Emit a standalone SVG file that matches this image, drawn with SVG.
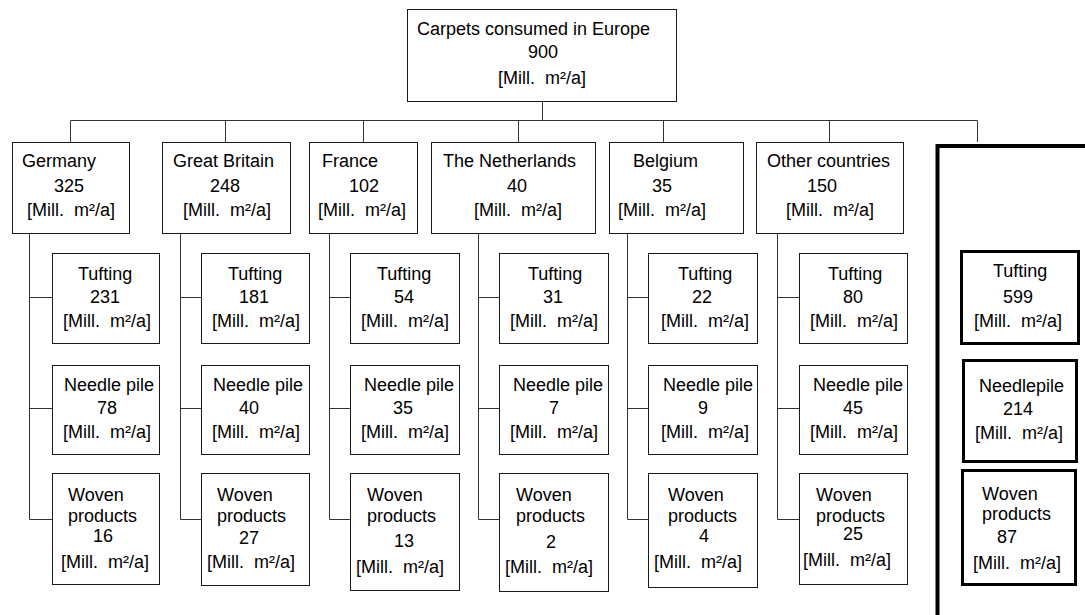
<svg xmlns="http://www.w3.org/2000/svg" width="1085" height="615" viewBox="0 0 1085 615">
  <style>
    text { font-family: "Liberation Sans", Arial, sans-serif; font-size: 18px; fill: #000; }
    .box { fill: #fff; stroke: #1a1a1a; stroke-width: 1; }
    .bold { fill: #fff; stroke: #000; stroke-width: 3; }
    .wire { fill: none; stroke: #333; stroke-width: 1; }
    .frame { fill: none; stroke: #000; stroke-width: 4; }
  </style>

  <!-- connectors -->
  <g id="connectors">
    <path class="wire" d="M542.5 101 V120.5 M70.5 120.5 H977.5 M70.5 120.5 V142 M225.5 120.5 V142 M363.5 120.5 V142 M518.5 120.5 V142 M663.5 120.5 V142 M829.5 120.5 V142 M977.5 120.5 V142"/>
    <path class="wire" d="M29.5 233 V519.5 M29.5 297.5 H52 M29.5 408.5 H52 M29.5 519.5 H52"/>
    <path class="wire" d="M180.5 233 V519.5 M180.5 297.5 H201 M180.5 408.5 H201 M180.5 519.5 H201"/>
    <path class="wire" d="M329.5 233 V519.5 M329.5 297.5 H350 M329.5 408.5 H350 M329.5 519.5 H350"/>
    <path class="wire" d="M478.5 233 V519.5 M478.5 297.5 H499 M478.5 408.5 H499 M478.5 519.5 H499"/>
    <path class="wire" d="M627.5 233 V519.5 M627.5 297.5 H648 M627.5 408.5 H648 M627.5 519.5 H648"/>
    <path class="wire" d="M777.5 233 V519.5 M777.5 297.5 H799 M777.5 408.5 H799 M777.5 519.5 H799"/>
    <path class="frame" d="M937.5 615 V146 H1085"/>
  </g>

  <!-- total -->
  <g id="europe">
    <rect class="box" x="407.5" y="9.5" width="269" height="92"/>
    <text x="417" y="35">Carpets consumed in Europe</text>
    <text x="528" y="58">900</text>
    <text x="498" y="84">[Mill.&#160; m²/a]</text>
  </g>

  <!-- countries -->
  <g id="germany">
    <rect class="box" x="12.5" y="142.5" width="117" height="91"/>
    <text x="22" y="167">Germany</text>
    <text x="54" y="192">325</text>
    <text x="27" y="216">[Mill.&#160; m²/a]</text>
  </g>
  <g id="great-britain">
    <rect class="box" x="162.5" y="142.5" width="128" height="91"/>
    <text x="173" y="167">Great Britain</text>
    <text x="210" y="192">248</text>
    <text x="183" y="216">[Mill.&#160; m²/a]</text>
  </g>
  <g id="france">
    <rect class="box" x="309.5" y="142.5" width="108" height="91"/>
    <text x="322" y="167">France</text>
    <text x="349" y="192">102</text>
    <text x="318" y="216">[Mill.&#160; m²/a]</text>
  </g>
  <g id="netherlands">
    <rect class="box" x="431.5" y="142.5" width="164" height="91"/>
    <text x="443" y="167">The Netherlands</text>
    <text x="507" y="192">40</text>
    <text x="474" y="216">[Mill.&#160; m²/a]</text>
  </g>
  <g id="belgium">
    <rect class="box" x="609.5" y="142.5" width="134" height="91"/>
    <text x="633" y="167">Belgium</text>
    <text x="652" y="192">35</text>
    <text x="618" y="216">[Mill.&#160; m²/a]</text>
  </g>
  <g id="other-countries">
    <rect class="box" x="756.5" y="142.5" width="147" height="91"/>
    <text x="767" y="167">Other countries</text>
    <text x="807" y="192">150</text>
    <text x="786" y="216">[Mill.&#160; m²/a]</text>
  </g>

  <!-- Germany products -->
  <g id="de-tufting">
    <rect class="box" x="52.5" y="253.5" width="107" height="90"/>
    <text x="78" y="280">Tufting</text>
    <text x="90" y="303">231</text>
    <text x="63" y="327">[Mill.&#160; m²/a]</text>
  </g>
  <g id="de-needle">
    <rect class="box" x="52.5" y="365.5" width="107" height="89"/>
    <text x="64" y="391">Needle pile</text>
    <text x="97" y="414">78</text>
    <text x="63" y="438">[Mill.&#160; m²/a]</text>
  </g>
  <g id="de-woven">
    <rect class="box" x="52.5" y="473.5" width="107" height="111"/>
    <text x="68" y="501">Woven</text>
    <text x="68" y="522">products</text>
    <text x="93" y="542">16</text>
    <text x="61" y="568">[Mill.&#160; m²/a]</text>
  </g>

  <!-- Great Britain products -->
  <g id="gb-tufting">
    <rect class="box" x="201.5" y="253.5" width="108" height="90"/>
    <text x="228" y="280">Tufting</text>
    <text x="239" y="303">181</text>
    <text x="212" y="327">[Mill.&#160; m²/a]</text>
  </g>
  <g id="gb-needle">
    <rect class="box" x="201.5" y="365.5" width="108" height="89"/>
    <text x="213" y="391">Needle pile</text>
    <text x="239" y="414">40</text>
    <text x="212" y="438">[Mill.&#160; m²/a]</text>
  </g>
  <g id="gb-woven">
    <rect class="box" x="201.5" y="473.5" width="108" height="112"/>
    <text x="217" y="501">Woven</text>
    <text x="217" y="522">products</text>
    <text x="239" y="544">27</text>
    <text x="207" y="568">[Mill.&#160; m²/a]</text>
  </g>

  <!-- France products -->
  <g id="fr-tufting">
    <rect class="box" x="350.5" y="253.5" width="109" height="90"/>
    <text x="377" y="280">Tufting</text>
    <text x="394" y="303">54</text>
    <text x="361" y="327">[Mill.&#160; m²/a]</text>
  </g>
  <g id="fr-needle">
    <rect class="box" x="350.5" y="365.5" width="109" height="89"/>
    <text x="364" y="391">Needle pile</text>
    <text x="393" y="414">35</text>
    <text x="361" y="438">[Mill.&#160; m²/a]</text>
  </g>
  <g id="fr-woven">
    <rect class="box" x="350.5" y="473.5" width="109" height="117"/>
    <text x="367" y="501">Woven</text>
    <text x="367" y="522">products</text>
    <text x="394" y="547">13</text>
    <text x="356" y="573">[Mill.&#160; m²/a]</text>
  </g>

  <!-- Netherlands products -->
  <g id="nl-tufting">
    <rect class="box" x="499.5" y="253.5" width="109" height="90"/>
    <text x="528" y="280">Tufting</text>
    <text x="543" y="303">31</text>
    <text x="510" y="327">[Mill.&#160; m²/a]</text>
  </g>
  <g id="nl-needle">
    <rect class="box" x="499.5" y="365.5" width="109" height="89"/>
    <text x="513" y="391">Needle pile</text>
    <text x="549" y="414">7</text>
    <text x="510" y="438">[Mill.&#160; m²/a]</text>
  </g>
  <g id="nl-woven">
    <rect class="box" x="499.5" y="473.5" width="109" height="118"/>
    <text x="516" y="501">Woven</text>
    <text x="516" y="522">products</text>
    <text x="546" y="548">2</text>
    <text x="505" y="573">[Mill.&#160; m²/a]</text>
  </g>

  <!-- Belgium products -->
  <g id="be-tufting">
    <rect class="box" x="648.5" y="253.5" width="109" height="90"/>
    <text x="678" y="280">Tufting</text>
    <text x="692" y="303">22</text>
    <text x="661" y="327">[Mill.&#160; m²/a]</text>
  </g>
  <g id="be-needle">
    <rect class="box" x="648.5" y="365.5" width="109" height="89"/>
    <text x="663" y="391">Needle pile</text>
    <text x="698" y="414">9</text>
    <text x="661" y="438">[Mill.&#160; m²/a]</text>
  </g>
  <g id="be-woven">
    <rect class="box" x="648.5" y="473.5" width="109" height="114"/>
    <text x="668" y="501">Woven</text>
    <text x="668" y="522">products</text>
    <text x="699" y="542">4</text>
    <text x="654" y="568">[Mill.&#160; m²/a]</text>
  </g>

  <!-- Other countries products -->
  <g id="oc-tufting">
    <rect class="box" x="799.5" y="253.5" width="108" height="90"/>
    <text x="828" y="280">Tufting</text>
    <text x="843" y="303">80</text>
    <text x="810" y="327">[Mill.&#160; m²/a]</text>
  </g>
  <g id="oc-needle">
    <rect class="box" x="799.5" y="365.5" width="108" height="89"/>
    <text x="813" y="391">Needle pile</text>
    <text x="843" y="414">45</text>
    <text x="810" y="438">[Mill.&#160; m²/a]</text>
  </g>
  <g id="oc-woven">
    <rect class="box" x="799.5" y="473.5" width="108" height="111"/>
    <text x="816" y="501">Woven</text>
    <text x="816" y="522">products</text>
    <text x="843" y="540">25</text>
    <text x="803" y="566">[Mill.&#160; m²/a]</text>
  </g>

  <!-- European totals per product -->
  <g id="eu-tufting">
    <rect class="bold" x="961.5" y="251.5" width="117" height="92"/>
    <text x="993" y="277">Tufting</text>
    <text x="1003" y="303">599</text>
    <text x="974" y="327">[Mill.&#160; m²/a]</text>
  </g>
  <g id="eu-needlepile">
    <rect class="bold" x="963.5" y="360.5" width="113" height="101"/>
    <text x="979" y="392">Needlepile</text>
    <text x="1003" y="415">214</text>
    <text x="975" y="439">[Mill.&#160; m²/a]</text>
  </g>
  <g id="eu-woven">
    <rect class="bold" x="962.5" y="470.5" width="113" height="114"/>
    <text x="982" y="500">Woven</text>
    <text x="982" y="520">products</text>
    <text x="997" y="543">87</text>
    <text x="973" y="569">[Mill.&#160; m²/a]</text>
  </g>
</svg>
